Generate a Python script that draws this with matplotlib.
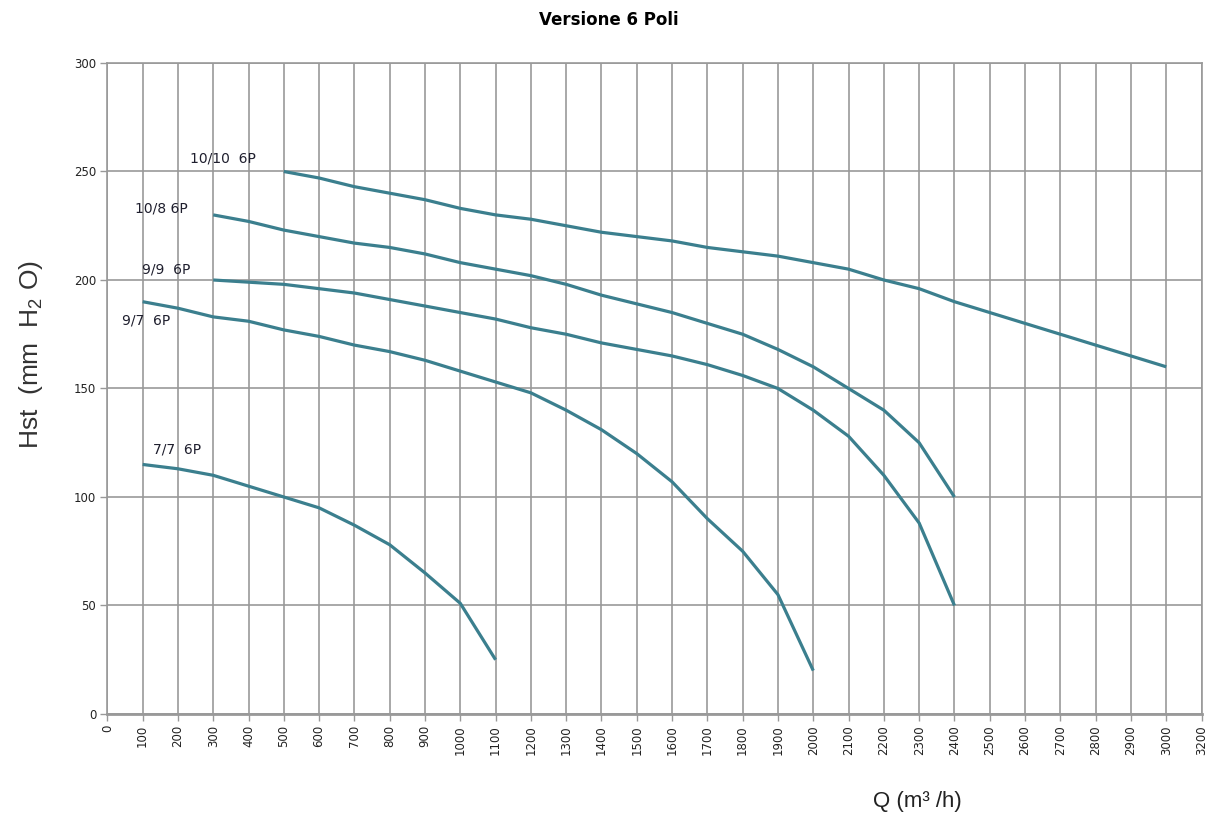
import matplotlib
matplotlib.use('Agg')
import matplotlib.pyplot as plt

# --- data ---
q_1010 = [500, 600, 700, 800, 900, 1000, 1100, 1200, 1300, 1400, 1500, 1600, 1700,
          1800, 1900, 2000, 2100, 2200, 2300, 2400, 2500, 2600, 2700, 2800, 2900, 3000]
h_1010 = [250, 247, 243, 240, 237, 233, 230, 228, 225, 222, 220, 218, 215,
          213, 211, 208, 205, 200, 196, 190, 185, 180, 175, 170, 165, 160]

q_108 = [300, 400, 500, 600, 700, 800, 900, 1000, 1100, 1200, 1300, 1400, 1500,
         1600, 1700, 1800, 1900, 2000, 2100, 2200, 2300, 2400]
h_108 = [230, 227, 223, 220, 217, 215, 212, 208, 205, 202, 198, 193, 189,
         185, 180, 175, 168, 160, 150, 140, 125, 100]

q_99 = [300, 400, 500, 600, 700, 800, 900, 1000, 1100, 1200, 1300, 1400, 1500,
        1600, 1700, 1800, 1900, 2000, 2100, 2200, 2300, 2400]
h_99 = [200, 199, 198, 196, 194, 191, 188, 185, 182, 178, 175, 171, 168,
        165, 161, 156, 150, 140, 128, 110, 88, 50]

q_97 = [100, 200, 300, 400, 500, 600, 700, 800, 900, 1000, 1100, 1200, 1300,
        1400, 1500, 1600, 1700, 1800, 1900, 2000]
h_97 = [190, 187, 183, 181, 177, 174, 170, 167, 163, 158, 153, 148, 140,
        131, 120, 107, 90, 75, 55, 20]

q_77 = [100, 200, 300, 400, 500, 600, 700, 800, 900, 1000, 1100]
h_77 = [115, 113, 110, 105, 100, 95, 87, 78, 65, 51, 25]

curve_names = ['10/10  6P', '10/8 6P', '9/9  6P', '9/7  6P', '7/7  6P']
label_q = [235, 79, 98, 42, 129]
label_h = [256, 233, 205, 181.5, 122]

# x axis labels as printed on the original (it jumps from 3000 to 3200)
x_ticks = list(range(0, 3200, 100))
x_labels = [str(v) for v in range(0, 3100, 100)] + ['3200']
y_ticks = [0, 50, 100, 150, 200, 250, 300]

LINE = '#3b7f8e'
GRID = '#999999'

plt.rcParams['mathtext.fontset'] = 'custom'
plt.rcParams['mathtext.rm'] = 'Liberation Sans'
plt.rcParams['mathtext.it'] = 'Liberation Sans'

fig = plt.figure(figsize=(12.1, 8.16), dpi=100)
ax = fig.add_axes([0.0887, 0.125, 0.9043, 0.7978])

for q, h in [(q_1010, h_1010), (q_108, h_108), (q_99, h_99), (q_97, h_97), (q_77, h_77)]:
    ax.plot(q, h, color=LINE, lw=2.3, solid_capstyle='butt', zorder=3)

for name, x, y in zip(curve_names, label_q, label_h):
    ax.text(x, y, name, fontsize=10, color='#1f1f2e', ha='left', va='center',
            family='DejaVu Sans')

ax.set_xlim(0, 3100)
ax.set_ylim(0, 300)
ax.set_xticks(x_ticks)
ax.set_xticklabels(x_labels, rotation=90, fontsize=8.5, color='#222222')
ax.set_yticks(y_ticks)
ax.set_yticklabels([str(v) for v in y_ticks], fontsize=8.5, color='#222222')
ax.tick_params(axis='both', direction='out', length=5, width=1, color=GRID, pad=3)

ax.grid(True, color=GRID, lw=1.2)
ax.set_axisbelow(True)
for s in ax.spines.values():
    s.set_color(GRID)
    s.set_linewidth(1.2)
ax.spines['bottom'].set_linewidth(2)

fig.text(0.503, 0.975, 'Versione 6 Poli', ha='center', va='center',
         fontsize=12, fontweight='bold', family='DejaVu Sans')
fig.text(0.026, 0.565, r'Hst  (mm  H$_{2}$ O)', rotation=90,
         ha='center', va='center', fontsize=19, color='#333333',
         family='Liberation Sans')
fig.text(0.758, 0.018, 'Q (m³ /h)', ha='center', va='center', fontsize=16,
         color='#222222', family='Liberation Sans')

fig.savefig('out.png', dpi=100)
